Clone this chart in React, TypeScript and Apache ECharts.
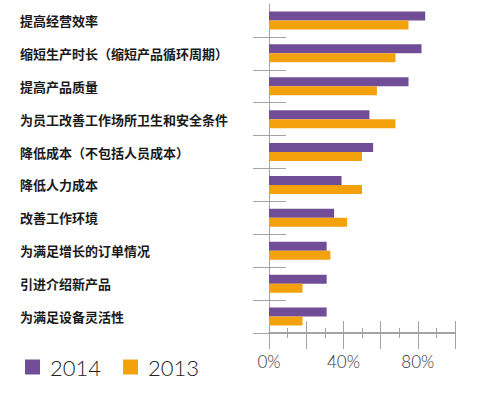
import React, { useEffect, useRef } from "react";
import * as echarts from "echarts";

const categories = [
  "提高经营效率",
  "缩短生产时长（缩短产品循环周期）",
  "提高产品质量",
  "为员工改善工作场所卫生和安全条件",
  "降低成本（不包括人员成本）",
  "降低人力成本",
  "改善工作环境",
  "为满足增长的订单情况",
  "引进介绍新产品",
  "为满足设备灵活性",
];
const values2014 = [84, 82, 75, 54, 56, 39, 35, 31, 31, 31];
const values2013 = [75, 68, 58, 68, 50, 50, 42, 33, 18, 18];
const seriesNames = ["2014", "2013"];
const xTickLabels = [0, 40, 80];

const PURPLE = "#724D97";
const ORANGE = "#F3A20D";
const AXIS = "#a3a3a3";
const THIN = "Lato, 'Open Sans', sans-serif";
const CJK = "'Noto Sans CJK SC', sans-serif";

export default function App() {
  const ref = useRef<HTMLDivElement>(null);
  useEffect(() => {
    if (!ref.current) return;
    const chart = echarts.init(ref.current, null, { renderer: "svg" });
    const tickInterval = (index: number) => index !== 0;
    chart.setOption({
      animation: false,
      backgroundColor: "#ffffff",
      grid: { left: 269, right: 33, top: 4, bottom: 62 },
      legend: {
        data: seriesNames,
        left: 20,
        top: 351,
        icon: "rect",
        itemWidth: 15,
        itemHeight: 15,
        itemGap: 22,
        textStyle: {
          fontFamily: THIN,
          fontWeight: 300,
          fontSize: 22,
          lineHeight: 22,
          color: "#222",
          padding: [0, 0, 0, 5],
        },
      },
      xAxis: [
        {
          type: "value",
          min: 0,
          max: 100,
          interval: 20,
          position: "bottom",
          axisLine: { show: true, lineStyle: { color: AXIS, width: 2 } },
          axisTick: { show: true, length: 16, lineStyle: { color: AXIS } },
          minorTick: { show: true, splitNumber: 2, length: 5, lineStyle: { color: AXIS } },
          splitLine: { show: false },
          axisLabel: {
            margin: 20,
            fontFamily: THIN,
            fontWeight: 300,
            fontSize: 17,
            color: "#333",
            formatter: (v: number) => (xTickLabels.includes(v) ? v + "%" : ""),
          },
        },
        {
          type: "value",
          min: 0,
          max: 100,
          interval: 20,
          position: "bottom",
          axisLine: { show: false },
          axisTick: { show: true, inside: true, length: 12, lineStyle: { color: AXIS } },
          minorTick: { show: true, splitNumber: 2, length: 5, lineStyle: { color: AXIS } },
          splitLine: { show: false },
          axisLabel: { show: false },
        },
      ],
      yAxis: [
        {
          type: "category",
          data: categories,
          inverse: true,
          position: "left",
          axisLine: { show: true, lineStyle: { color: AXIS, width: 1 } },
          axisTick: { show: true, length: 16, interval: tickInterval, lineStyle: { color: AXIS } },
          axisLabel: {
            align: "left",
            margin: 249,
            fontFamily: CJK,
            fontWeight: "bold",
            fontSize: 13,
            color: "#1a1a1a",
          },
        },
        {
          type: "category",
          data: categories,
          inverse: true,
          position: "left",
          axisLine: { show: false },
          axisTick: { show: true, inside: true, length: 17, interval: tickInterval, lineStyle: { color: AXIS } },
          axisLabel: { show: false },
        },
      ],
      series: [
        {
          name: seriesNames[0],
          type: "bar",
          data: values2014,
          barWidth: 9,
          barGap: "0%",
          itemStyle: { color: PURPLE },
        },
        {
          name: seriesNames[1],
          type: "bar",
          data: values2013,
          barWidth: 9,
          barGap: "0%",
          itemStyle: { color: ORANGE },
        },
      ],
    });
    return () => chart.dispose();
  }, []);
  return (
    <div
      ref={ref}
      style={{ position: "fixed", left: 0, top: 0, width: 488, height: 395 }}
    />
  );
}
